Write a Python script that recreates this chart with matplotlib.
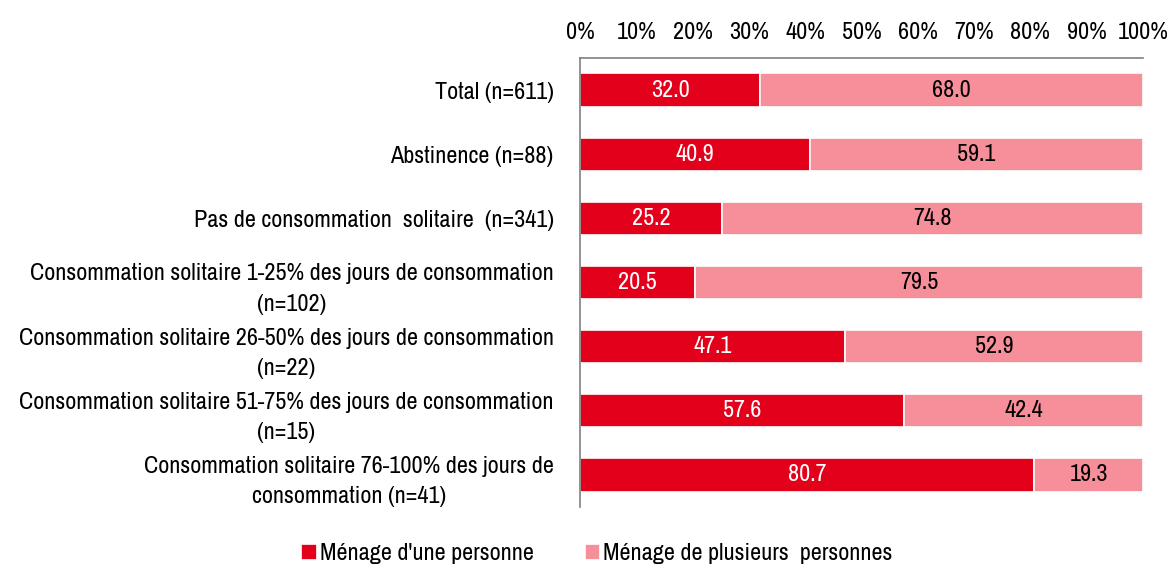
import matplotlib
matplotlib.use("Agg")
import matplotlib.pyplot as plt
from matplotlib import font_manager

names = {f.name for f in font_manager.fontManager.ttflist}
candidates = ['Liberation Sans Narrow', 'Arial Narrow', 'Archivo Narrow', 'PT Sans Narrow',
              'Roboto Condensed', 'Pragati Narrow', 'Open Sans Condensed', 'Liberation Sans']
main_font = next(c for c in candidates if c in names)
plt.rcParams['font.family'] = [main_font, 'DejaVu Sans']

categories = [
    "Total (n=611)",
    "Abstinence (n=88)",
    "Pas de consommation  solitaire  (n=341)",
    "Consommation solitaire 1-25% des jours de consommation\n(n=102)",
    "Consommation solitaire 26-50% des jours de consommation\n(n=22)",
    "Consommation solitaire 51-75% des jours de consommation\n(n=15)",
    "Consommation solitaire 76-100% des jours de\nconsommation (n=41)",
]
one_person = [32.0, 40.9, 25.2, 20.5, 47.1, 57.6, 80.7]
several = [68.0, 59.1, 74.8, 79.5, 52.9, 42.4, 19.3]
series_names = ["Ménage d'une personne", "Ménage de plusieurs  personnes"]
ticks = [0, 10, 20, 30, 40, 50, 60, 70, 80, 90, 100]
tick_labels = [f"{t}%" for t in ticks]

c1 = '#E2001A'
c2 = '#F78F9B'

fig = plt.figure(figsize=(11.71, 5.70), dpi=100)

# calibrate font size so the longest label line matches the reference width
probe = fig.text(0, 0, "Consommation solitaire 1-25% des jours de consommation", fontsize=10)
w = probe.get_window_extent(renderer=fig.canvas.get_renderer()).width
probe.remove()
fs = min(17.4, 10 * 528 / w)

ax = fig.add_axes([580/1171, 1-507/570, (1143-580)/1171, (507-58)/570])

y = list(range(len(categories)))
b1 = ax.barh(y, one_person, height=0.52, color=c1, edgecolor='white', linewidth=1.2, label=series_names[0])
b2 = ax.barh(y, several, left=one_person, height=0.52, color=c2, edgecolor='white', linewidth=1.2, label=series_names[1])

for i in y:
    ax.text(one_person[i]/2, i, f"{one_person[i]:.1f}", ha='center', va='center', color='white', fontsize=fs)
    ax.text(one_person[i] + several[i]/2, i, f"{several[i]:.1f}", ha='center', va='center', color='black',
            fontsize=fs, fontweight='bold')

ax.set_xlim(0, 100)
ax.set_ylim(len(categories)-0.5, -0.5)
ax.xaxis.tick_top()
ax.set_xticks(ticks)
ax.set_xticklabels(tick_labels, fontsize=fs)
ax.tick_params(axis='x', length=0, pad=11)
ax.set_yticks(y)
ax.set_yticklabels(categories, fontsize=fs, multialignment='center', linespacing=1.55)
ax.tick_params(axis='y', length=0, pad=19)
for s in ['right', 'bottom']:
    ax.spines[s].set_visible(False)
for s in ['top', 'left']:
    ax.spines[s].set_color('#808080')
    ax.spines[s].set_linewidth(1.2)

fig.legend(handles=[b1, b2], labels=series_names, loc='center', bbox_to_anchor=(597/1171, 1-554/570),
           ncol=2, frameon=False, fontsize=fs, handlelength=0.65, handleheight=0.65, handletextpad=0.12,
           columnspacing=2.1)

fig.savefig('out.png', dpi=100)
